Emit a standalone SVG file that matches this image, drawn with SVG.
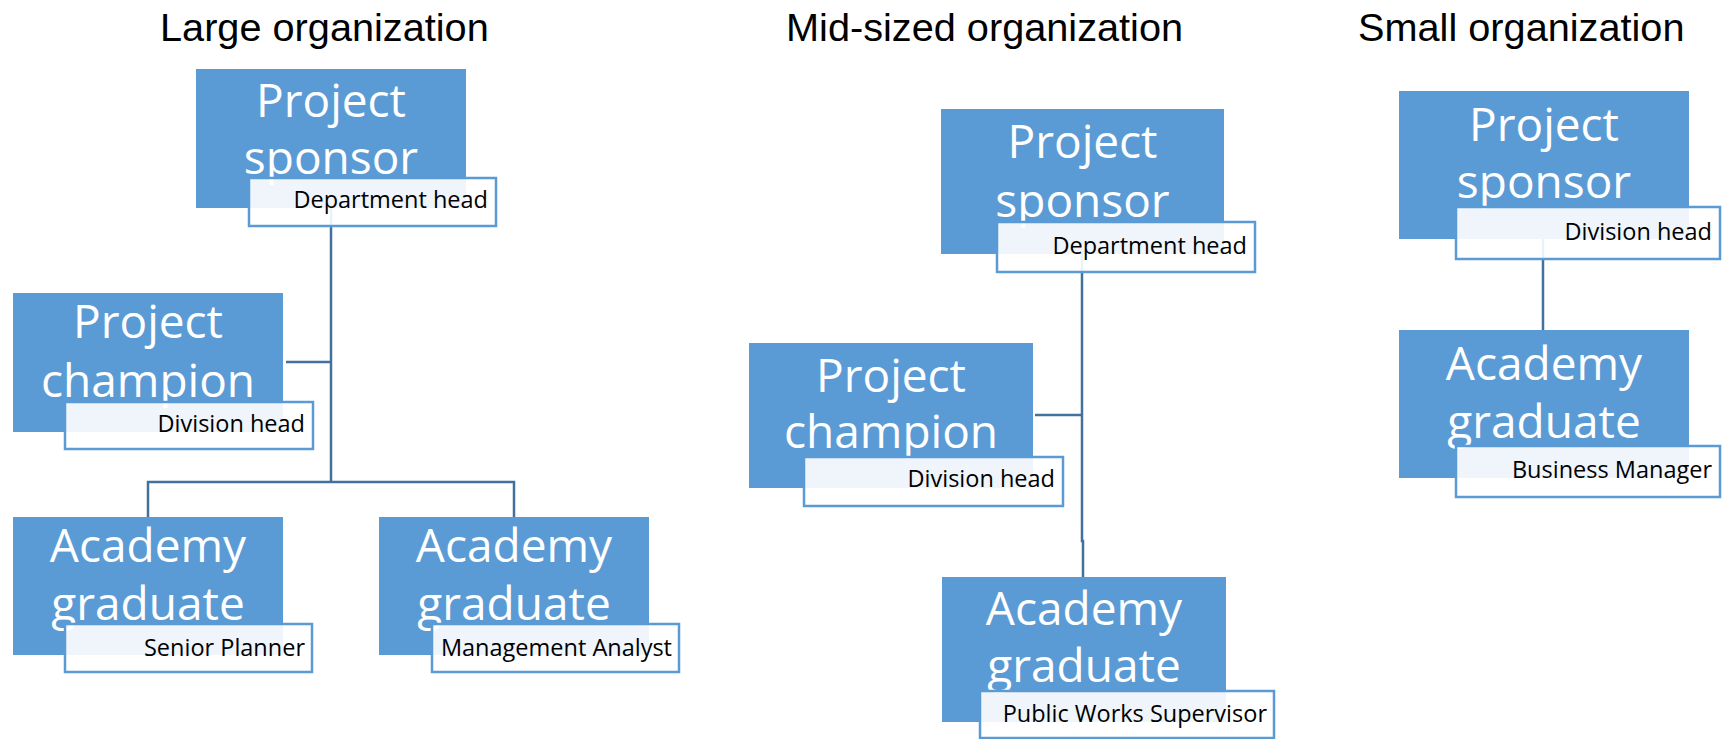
<svg xmlns="http://www.w3.org/2000/svg" width="1723" height="739" viewBox="0 0 1723 739">
  <style>
    .title { font-family: "Liberation Sans", Arial, sans-serif; font-size: 39.7px; fill: #000000; }
    .box { fill: #5B9BD5; }
    .main { font-family: "Open Sans", "Noto Sans", sans-serif; font-size: 46px; fill: #FFFFFF; text-anchor: middle; }
    .tag { fill: #FFFFFF; fill-opacity: 0.9; stroke: #5B9BD5; stroke-width: 2.5; }
    .tagtext { font-family: "Open Sans", "Noto Sans", sans-serif; font-size: 23.5px; fill: #000000; text-anchor: end; }
    .link { fill: none; stroke: #41719C; stroke-width: 2.5; }
  </style>

  <rect width="1723" height="739" fill="#FFFFFF"/>

  <!-- column headings -->
  <text class="title" x="160" y="41">Large organization</text>
  <text class="title" x="786" y="41">Mid-sized organization</text>
  <text class="title" x="1358" y="41">Small organization</text>

  <!-- reporting lines -->
  <g id="connectors">
    <!-- large -->
    <path class="link" d="M331,208 V482"/>
    <path class="link" d="M286,362 H331"/>
    <path class="link" d="M148,517 V482 H514 V517"/>
    <!-- mid-sized -->
    <path class="link" d="M1082,254 V541 H1083 V577"/>
    <path class="link" d="M1035,415 H1082"/>
    <!-- small -->
    <path class="link" d="M1543,239 V330"/>
  </g>

  <!-- Large organization -->
  <g id="large-sponsor">
    <rect class="box" x="196" y="69" width="270" height="139"/>
    <text class="main" x="331" y="117">Project</text>
    <text class="main" x="331" y="174">sponsor</text>
    <rect class="tag" x="249" y="178" width="247" height="48"/>
    <text class="tagtext" x="488" y="208">Department head</text>
  </g>
  <g id="large-champion">
    <rect class="box" x="13" y="293" width="270" height="139"/>
    <text class="main" x="148" y="338">Project</text>
    <text class="main" x="148" y="397">champion</text>
    <rect class="tag" x="65" y="402" width="248" height="47"/>
    <text class="tagtext" x="305" y="432">Division head</text>
  </g>
  <g id="large-graduate-1">
    <rect class="box" x="13" y="517" width="270" height="138"/>
    <text class="main" x="148" y="562">Academy</text>
    <text class="main" x="148" y="620">graduate</text>
    <rect class="tag" x="65" y="624" width="247" height="48"/>
    <text class="tagtext" x="305" y="656">Senior Planner</text>
  </g>
  <g id="large-graduate-2">
    <rect class="box" x="379" y="517" width="270" height="138"/>
    <text class="main" x="514" y="562">Academy</text>
    <text class="main" x="514" y="620">graduate</text>
    <rect class="tag" x="432" y="624" width="247" height="48"/>
    <text class="tagtext" x="672" y="656">Management Analyst</text>
  </g>

  <!-- Mid-sized organization -->
  <g id="mid-sponsor">
    <rect class="box" x="941" y="109" width="283" height="145"/>
    <text class="main" x="1082.5" y="158">Project</text>
    <text class="main" x="1082.5" y="217">sponsor</text>
    <rect class="tag" x="997" y="222" width="258" height="50"/>
    <text class="tagtext" x="1247" y="254">Department head</text>
  </g>
  <g id="mid-champion">
    <rect class="box" x="749" y="343" width="284" height="145"/>
    <text class="main" x="891" y="392">Project</text>
    <text class="main" x="891" y="448">champion</text>
    <rect class="tag" x="804" y="457" width="259" height="49"/>
    <text class="tagtext" x="1055" y="487">Division head</text>
  </g>
  <g id="mid-graduate">
    <rect class="box" x="942" y="577" width="284" height="145"/>
    <text class="main" x="1084" y="625">Academy</text>
    <text class="main" x="1084" y="682">graduate</text>
    <rect class="tag" x="980" y="691" width="294" height="47"/>
    <text class="tagtext" x="1267" y="722">Public Works Supervisor</text>
  </g>

  <!-- Small organization -->
  <g id="small-sponsor">
    <rect class="box" x="1399" y="91" width="290" height="148"/>
    <text class="main" x="1544" y="141">Project</text>
    <text class="main" x="1544" y="198">sponsor</text>
    <rect class="tag" x="1456" y="207" width="264" height="52"/>
    <text class="tagtext" x="1712" y="240">Division head</text>
  </g>
  <g id="small-graduate">
    <rect class="box" x="1399" y="330" width="290" height="148"/>
    <text class="main" x="1544" y="380">Academy</text>
    <text class="main" x="1544" y="438">graduate</text>
    <rect class="tag" x="1456" y="446" width="264" height="51"/>
    <text class="tagtext" x="1712" y="478">Business Manager</text>
  </g>
</svg>
